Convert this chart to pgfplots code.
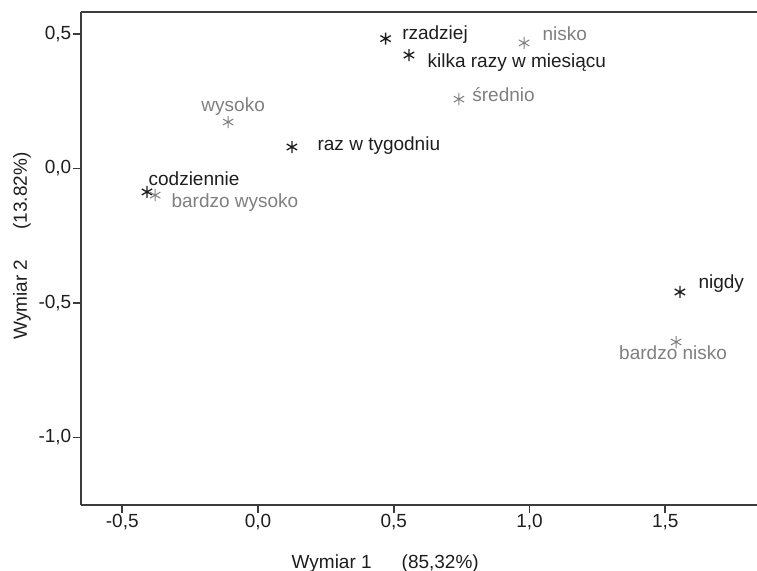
\documentclass[border=0pt]{standalone}
\usepackage{fontspec}
\setmainfont{Liberation Sans}
\usepackage{pgfplots}
\pgfplotsset{compat=1.18}
\usetikzlibrary{calc}
\definecolor{blk}{HTML}{1E1E1E}
\definecolor{gry}{HTML}{7F7F7F}
\definecolor{axc}{HTML}{3C3C3C}

\pgfplotsset{
  pt/.style n args={4}{
    only marks, mark=asterisk, mark size=6bp, draw=#1,
    nodes near coords, point meta=explicit symbolic,
    nodes near coords style={anchor=#2, xshift=#3, yshift=#4, inner sep=0pt,
      font=\fontsize{19bp}{22bp}\selectfont, text=#1},
  },
}

\begin{document}
\begin{tikzpicture}
\begin{axis}[
  scale only axis,
  width=680bp, height=493bp,
  xmin=-0.652, xmax=1.8527,
  ymin=-1.251, ymax=0.582,
  axis x line=box, axis y line=left,
  axis line style={-, draw=axc, line width=1.8bp},
  xtick={-0.5,0,0.5,1,1.5},
  ytick={-1,-0.5,0,0.5},
  xtick pos=bottom, ytick pos=left,
  tick align=outside,
  major tick length=8bp,
  every tick/.style={draw=axc, line width=1.8bp},
  minor tick num=0,
  tick label style={font=\fontsize{19bp}{22bp}\selectfont, text=blk, inner sep=1.5bp},
  /pgf/number format/assume math mode=true,
  /pgf/number format/use comma,
  /pgf/number format/fixed,
  /pgf/number format/fixed zerofill,
  /pgf/number format/precision=1,
  xlabel={Wymiar 1\hspace{30bp}(85,32\%)},
  ylabel={Wymiar 2\hspace{30bp}(13.82\%)},
  label style={font=\fontsize{19bp}{22bp}\selectfont, text=blk},
  xlabel style={at={(axis description cs:0.4474,-0.1278)}, anchor=base},
  ylabel style={at={(axis description cs:-0.0868,0.525)}, anchor=center},
  clip=false,
]
% black series (frequency)
\addplot[pt={blk}{base west}{16bp}{-1bp}, line width=1.3bp] coordinates {(0.470,0.483) [rzadziej]};
\addplot[pt={blk}{base west}{18bp}{-12bp}, line width=1.3bp] coordinates {(0.556,0.422) [kilka razy w miesiącu]};
\addplot[pt={blk}{base west}{25bp}{-3bp}, line width=1.3bp] coordinates {(0.125,0.080) [raz w tygodniu]};
\addplot[pt={blk}{base west}{1bp}{6bp}, line width=1.3bp] coordinates {(-0.409,-0.087) [codziennie]};
\addplot[pt={blk}{base west}{18bp}{3bp}, line width=1.3bp] coordinates {(1.554,-0.459) [nigdy]};
% gray series (level)
\addplot[pt={gry}{base west}{18bp}{2bp}, line width=1bp] coordinates {(0.980,0.467) [nisko]};
\addplot[pt={gry}{base west}{13bp}{-2bp}, line width=1bp] coordinates {(0.740,0.258) [średnio]};
\addplot[pt={gry}{base}{5bp}{11bp}, line width=1bp] coordinates {(-0.110,0.173) [wysoko]};
\addplot[pt={gry}{base west}{16bp}{-12bp}, line width=1bp] coordinates {(-0.379,-0.099) [bardzo wysoko]};
\addplot[pt={gry}{base}{-3bp}{-17bp}, line width=1bp] coordinates {(1.540,-0.645) [bardzo nisko]};
\coordinate (bl) at (rel axis cs:0,0);
\coordinate (tr) at (rel axis cs:1,1);
\end{axis}
\pgfresetboundingbox
\path[use as bounding box] ($(bl)+(-81bp,-66bp)$) rectangle ($(tr)+(-4bp,12bp)$);
\end{tikzpicture}
\end{document}
